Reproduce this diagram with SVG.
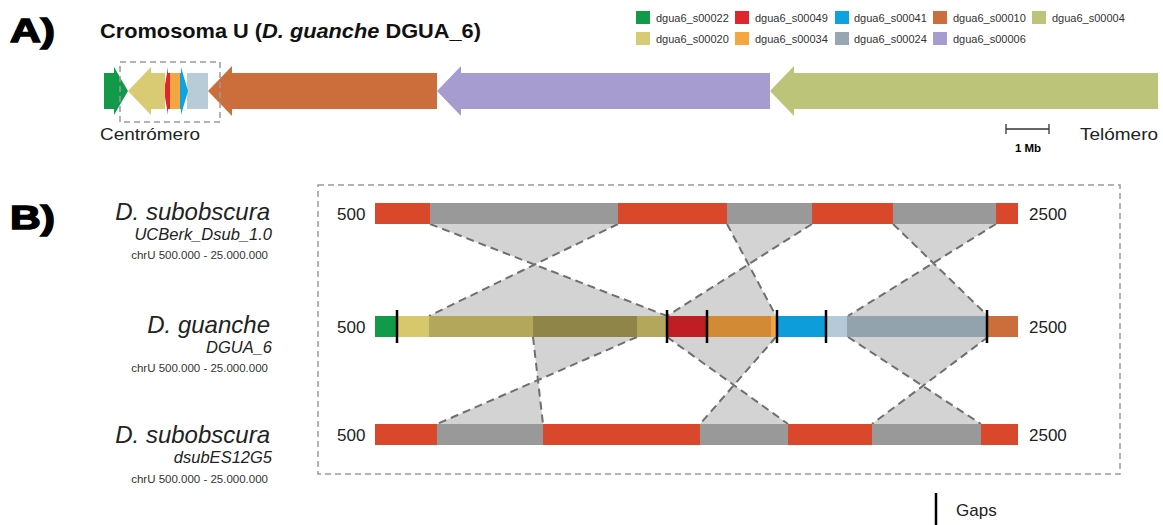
<svg xmlns="http://www.w3.org/2000/svg" width="1163" height="525" viewBox="0 0 1163 525">
<style>
.hd{font-family:"Liberation Sans",Arial,sans-serif;font-weight:bold;fill:#000}
.ttl{font-family:"Liberation Sans Narrow","Liberation Sans",Arial,sans-serif;font-weight:bold;fill:#111}
.cond{font-family:"Liberation Sans Narrow","Liberation Sans",Arial,sans-serif;fill:#222}
.lg{font-family:"Liberation Sans",Arial,sans-serif;font-size:11px;fill:#333}
.sp{font-family:"Liberation Sans",Arial,sans-serif;font-style:italic;fill:#222;text-anchor:end}
.sm{font-family:"Liberation Sans",Arial,sans-serif;fill:#333;text-anchor:end;font-size:11.5px}
.num{font-family:"Liberation Sans",Arial,sans-serif;fill:#222;font-size:17px}
.box{fill:none;stroke:#9a9a9a;stroke-width:1.5;stroke-dasharray:6 4}
.syn{fill:#d3d3d3;stroke:none}
.dl{fill:none;stroke:#6f6f6f;stroke-width:2;stroke-dasharray:8 5}
.gap{stroke:#000;stroke-width:2.5}
</style>

<!-- Panel A -->
<text class="hd" x="10" y="42" font-size="34" stroke="#000" stroke-width="1.5" textLength="45" lengthAdjust="spacingAndGlyphs">A)</text>
<text class="ttl" x="100" y="38" font-size="21" textLength="381" lengthAdjust="spacingAndGlyphs">Cromosoma U (<tspan font-style="italic">D. guanche</tspan> DGUA_6)</text>

<g id="legend">
<rect x="636" y="11" width="14" height="13" fill="#13994a"/><text class="lg" x="656" y="22">dgua6_s00022</text>
<rect x="735" y="11" width="14" height="13" fill="#e0252b"/><text class="lg" x="755" y="22">dgua6_s00049</text>
<rect x="835" y="11" width="14" height="13" fill="#0fa2e0"/><text class="lg" x="854" y="22">dgua6_s00041</text>
<rect x="933" y="11" width="14" height="13" fill="#cc6e3c"/><text class="lg" x="953" y="22">dgua6_s00010</text>
<rect x="1032" y="11" width="14" height="13" fill="#bcc47a"/><text class="lg" x="1052" y="22">dgua6_s00004</text>
<rect x="636" y="32" width="14" height="13" fill="#d9cb73"/><text class="lg" x="656" y="43">dgua6_s00020</text>
<rect x="735" y="32" width="14" height="13" fill="#f4a640"/><text class="lg" x="755" y="43">dgua6_s00034</text>
<rect x="835" y="32" width="14" height="13" fill="#97a6b1"/><text class="lg" x="854" y="43">dgua6_s00024</text>
<rect x="933" y="32" width="14" height="13" fill="#a69ccf"/><text class="lg" x="953" y="43">dgua6_s00006</text>
</g>

<g id="chromosome">
<polygon points="1158,73 794,73 794,66 770,91 794,116 794,109 1158,109" fill="#bcc47a"/>
<polygon points="770,73 461,73 461,66 437,91 461,116 461,109 770,109" fill="#a69ccf"/>
<polygon points="437,73 232,73 232,66 208,91 232,116 232,109 437,109" fill="#cc6e3c"/>
<rect x="187" y="73" width="21" height="36" fill="#b8ccd8"/>
<rect x="170" y="73" width="10" height="36" fill="#f4a640"/>
<polygon points="180,73 181,73 181,67 188,91 181,115 181,109 180,109" fill="#0fa2e0"/>
<polygon points="164,91 168,67 168,73 170,73 170,109 168,109 168,115" fill="#e0252b"/>
<polygon points="165,73 151,73 151,67 128,91 151,115 151,109 165,109" fill="#d9cb73"/>
<polygon points="104,73 114,73 114,67 128,91 114,115 114,109 104,109" fill="#13994a"/>
<rect class="box" x="120" y="62" width="100" height="60"/>
</g>
<text class="cond" x="100" y="140" font-size="17" textLength="100" lengthAdjust="spacingAndGlyphs">Centrómero</text>
<text class="cond" x="1080" y="140" font-size="17" textLength="78" lengthAdjust="spacingAndGlyphs">Telómero</text>
<g id="scalebar" stroke="#333" stroke-width="1.3">
<line x1="1006" y1="129" x2="1049" y2="129"/>
<line x1="1006" y1="124" x2="1006" y2="134"/>
<line x1="1049" y1="124" x2="1049" y2="134"/>
</g>
<text class="hd" x="1028" y="152" font-size="11.5" text-anchor="middle" fill="#222">1 Mb</text>

<!-- Panel B -->
<text class="hd" x="10" y="229" font-size="34" stroke="#000" stroke-width="1.5" textLength="45" lengthAdjust="spacingAndGlyphs">B)</text>
<rect class="box" x="318" y="185" width="802" height="289"/>

<g id="connectors">
<polygon class="syn" points="430,224 618,224 429,316 667,316"/>
<line class="dl" x1="430" y1="224" x2="667" y2="316"/>
<line class="dl" x1="618" y1="224" x2="429" y2="316"/>
<polygon class="syn" points="727,224 812,224 667,316 776,316"/>
<line class="dl" x1="727" y1="224" x2="776" y2="316"/>
<line class="dl" x1="812" y1="224" x2="667" y2="316"/>
<polygon class="syn" points="893,224 996,224 848,316 988,316"/>
<line class="dl" x1="893" y1="224" x2="988" y2="316"/>
<line class="dl" x1="996" y1="224" x2="848" y2="316"/>
<polygon class="syn" points="533,337 637,337 437,424 543,424"/>
<line class="dl" x1="533" y1="337" x2="543" y2="424"/>
<line class="dl" x1="637" y1="337" x2="437" y2="424"/>
<polygon class="syn" points="667,337 776,337 700,424 788,424"/>
<line class="dl" x1="667" y1="337" x2="788" y2="424"/>
<line class="dl" x1="776" y1="337" x2="700" y2="424"/>
<polygon class="syn" points="848,337 988,337 872,424 981,424"/>
<line class="dl" x1="848" y1="337" x2="981" y2="424"/>
<line class="dl" x1="988" y1="337" x2="872" y2="424"/>
</g>

<g id="track-top">
<text class="sp" x="270" y="220" font-size="24">D. subobscura</text>
<text class="sp" x="272" y="240" font-size="16.5">UCBerk_Dsub_1.0</text>
<text class="sm" x="268" y="259">chrU 500.000 - 25.000.000</text>
<text class="num" x="337" y="220">500</text>
<text class="num" x="1029" y="220">2500</text>
<rect x="375" y="203" width="55" height="21" fill="#d9482b"/>
<rect x="430" y="203" width="188" height="21" fill="#999999"/>
<rect x="618" y="203" width="109" height="21" fill="#d9482b"/>
<rect x="727" y="203" width="85" height="21" fill="#999999"/>
<rect x="812" y="203" width="81" height="21" fill="#d9482b"/>
<rect x="893" y="203" width="103" height="21" fill="#999999"/>
<rect x="996" y="203" width="22" height="21" fill="#d9482b"/>
</g>

<g id="track-middle">
<text class="sp" x="270" y="333" font-size="24">D. guanche</text>
<text class="sp" x="272" y="353" font-size="16.5">DGUA_6</text>
<text class="sm" x="268" y="372">chrU 500.000 - 25.000.000</text>
<text class="num" x="337" y="333">500</text>
<text class="num" x="1029" y="333">2500</text>
<rect x="375" y="316" width="21" height="21" fill="#119a48"/>
<rect x="396" y="316" width="33" height="21" fill="#d8c86c"/>
<rect x="429" y="316" width="104" height="21" fill="#b3a75b"/>
<rect x="533" y="316" width="104" height="21" fill="#8f8548"/>
<rect x="637" y="316" width="30" height="21" fill="#b3a75b"/>
<rect x="667" y="316" width="40" height="21" fill="#be1e24"/>
<rect x="707" y="316" width="64" height="21" fill="#d38a35"/>
<rect x="771" y="316" width="6" height="21" fill="#f2a542"/>
<rect x="777" y="316" width="49" height="21" fill="#0d9ddb"/>
<rect x="826" y="316" width="21" height="21" fill="#b5cad8"/>
<rect x="847" y="316" width="140" height="21" fill="#93a3ae"/>
<rect x="987" y="316" width="31" height="21" fill="#cc6e3c"/>
<line class="gap" x1="397" y1="310" x2="397" y2="343"/>
<line class="gap" x1="667" y1="310" x2="667" y2="343"/>
<line class="gap" x1="707" y1="310" x2="707" y2="343"/>
<line class="gap" x1="777" y1="310" x2="777" y2="343"/>
<line class="gap" x1="826" y1="310" x2="826" y2="343"/>
<line class="gap" x1="987" y1="310" x2="987" y2="343"/>
</g>

<g id="track-bottom">
<text class="sp" x="270" y="443" font-size="24">D. subobscura</text>
<text class="sp" x="272" y="463" font-size="16.5">dsubES12G5</text>
<text class="sm" x="268" y="483">chrU 500.000 - 25.000.000</text>
<text class="num" x="337" y="441">500</text>
<text class="num" x="1029" y="441">2500</text>
<rect x="375" y="424" width="62" height="21" fill="#d9482b"/>
<rect x="437" y="424" width="106" height="21" fill="#999999"/>
<rect x="543" y="424" width="157" height="21" fill="#d9482b"/>
<rect x="700" y="424" width="88" height="21" fill="#999999"/>
<rect x="788" y="424" width="84" height="21" fill="#d9482b"/>
<rect x="872" y="424" width="109" height="21" fill="#999999"/>
<rect x="981" y="424" width="37" height="21" fill="#d9482b"/>
</g>

<g id="gaps-legend">
<line class="gap" x1="936" y1="493" x2="936" y2="525"/>
<text class="num" x="956" y="516" font-size="21">Gaps</text>
</g>
</svg>
